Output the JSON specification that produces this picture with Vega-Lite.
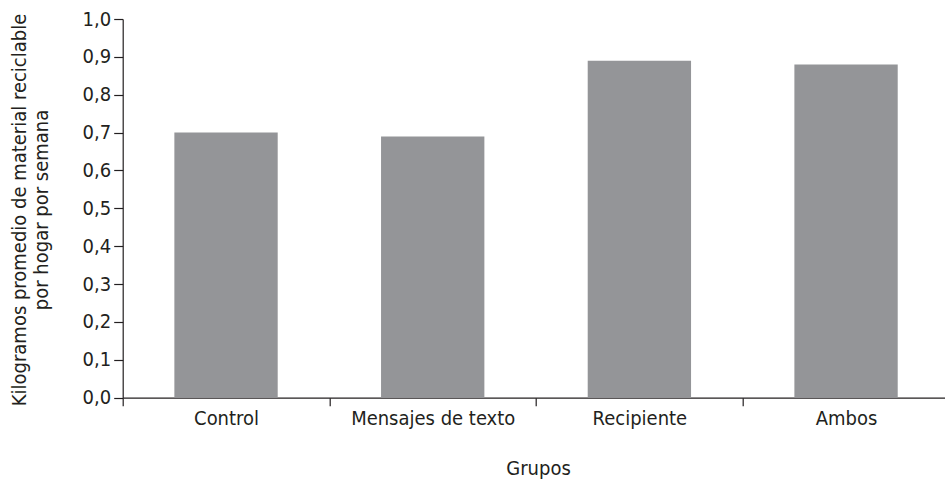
{
  "$schema": "https://vega.github.io/schema/vega-lite/v6.json",
  "autosize": "none",
  "padding": {"left": 122.7, "top": 19, "right": 0, "bottom": 82.3},
  "width": 826.7,
  "height": 378.7,
  "background": "white",
  "config": {
    "view": {"stroke": null},
    "font": "Liberation Sans Narrow, DejaVu Sans Condensed, Roboto, sans-serif"
  },
  "data": {
    "values": [
      {"grupo": "Control", "kg": 0.70},
      {"grupo": "Mensajes de texto", "kg": 0.69},
      {"grupo": "Recipiente", "kg": 0.89},
      {"grupo": "Ambos", "kg": 0.88}
    ]
  },
  "mark": {"type": "bar", "color": "#949598"},
  "encoding": {
    "x": {
      "field": "grupo",
      "type": "nominal",
      "sort": null,
      "scale": {"paddingInner": 0.5, "paddingOuter": 0.25},
      "axis": {
        "title": "Grupos",
        "labelAngle": 0,
        "tickOffset": -103.35,
        "labelOffset": 103.35,
        "tickSize": 8,
        "labelPadding": 3,
        "domainColor": "#231f20",
        "tickColor": "#231f20",
        "domainWidth": 1.2,
        "tickWidth": 1.2,
        "labelFont": "Liberation Sans Narrow, DejaVu Sans Condensed, sans-serif",
        "labelFontSize": 20,
        "labelColor": "#231f20",
        "titleFont": "Liberation Sans Narrow, DejaVu Sans Condensed, sans-serif",
        "titleFontSize": 20,
        "titleFontWeight": "normal",
        "titleColor": "#231f20",
        "titleBaseline": "alphabetic",
        "titleY": 77.3,
        "titleX": 415.3
      }
    },
    "y": {
      "field": "kg",
      "type": "quantitative",
      "scale": {"domain": [0, 1], "nice": false},
      "axis": {
        "title": ["Kilogramos promedio de material reciclable", "por hogar por semana"],
        "values": [0, 0.1, 0.2, 0.3, 0.4, 0.5, 0.6, 0.7, 0.8, 0.9, 1.0],
        "labelExpr": "replace(format(datum.value, '.1f'), '.', ',')",
        "grid": false,
        "tickSize": 9,
        "labelPadding": 3,
        "domainColor": "#231f20",
        "tickColor": "#231f20",
        "domainWidth": 1.2,
        "tickWidth": 1.2,
        "labelFont": "Liberation Sans Narrow, DejaVu Sans Condensed, sans-serif",
        "labelFontSize": 20,
        "labelColor": "#231f20",
        "titleFont": "Liberation Sans Narrow, DejaVu Sans Condensed, sans-serif",
        "titleFontSize": 20,
        "titleFontWeight": "normal",
        "titleColor": "#231f20",
        "titleAngle": -90,
        "titleAlign": "center",
        "titleBaseline": "alphabetic",
        "titleLineHeight": 22.7,
        "titleX": -97.4,
        "titleY": 190.5
      }
    }
  }
}
